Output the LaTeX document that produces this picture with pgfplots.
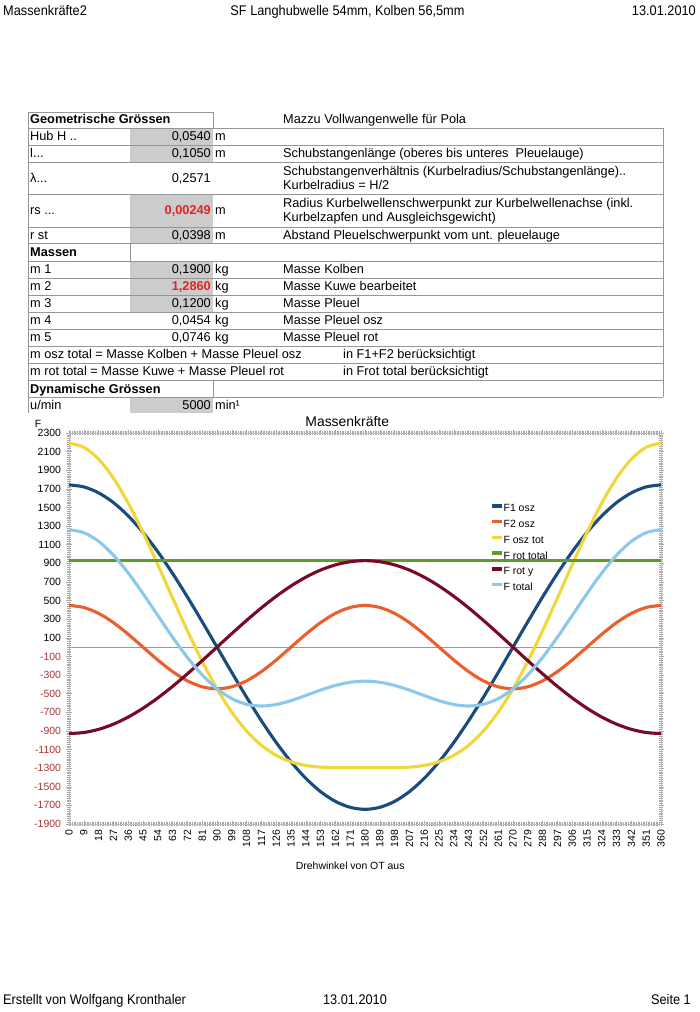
\documentclass[border=0pt]{standalone}
\usepackage{pgfplots}
\pgfplotsset{compat=1.18}
\usepackage{pgfplotstable}
\usepackage{fontspec}
\setmainfont{Liberation Sans}
\newfontfamily\narrow[FakeStretch=0.915]{Liberation Sans}

\definecolor{cA}{RGB}{25,75,125}
\definecolor{cB}{RGB}{235,95,45}
\definecolor{cC}{RGB}{240,215,60}
\definecolor{cD}{RGB}{95,155,40}
\definecolor{cE}{RGB}{120,10,40}
\definecolor{cF}{RGB}{140,200,235}
\definecolor{negred}{RGB}{170,50,50}
\definecolor{valred}{RGB}{225,35,35}
\definecolor{cellgray}{RGB}{204,204,204}
\definecolor{rulegray}{RGB}{150,150,150}

\pgfplotstableread{
deg F1 F2 Fosz Frot Froty Ftot
0 1742.5 448.0 2190.5 928.8 -928.8 1261.7
9 1721.0 426.1 2147.1 928.8 -917.4 1229.7
18 1657.2 362.4 2019.6 928.8 -883.3 1136.3
27 1552.6 263.3 1815.9 928.8 -827.6 988.3
36 1409.7 138.4 1548.1 928.8 -751.4 796.7
45 1232.1 0.0 1232.1 928.8 -656.8 575.3
54 1024.2 -138.4 885.8 928.8 -545.9 339.9
63 791.1 -263.3 527.8 928.8 -421.7 106.1
72 538.5 -362.4 176.1 928.8 -287.0 -110.9
81 272.6 -426.1 -153.5 928.8 -145.3 -298.8
90 0.0 -448.0 -448.0 928.8 0.0 -448.0
99 -272.6 -426.1 -698.7 928.8 145.3 -553.4
108 -538.5 -362.4 -900.9 928.8 287.0 -613.9
117 -791.1 -263.3 -1054.4 928.8 421.7 -632.7
126 -1024.2 -138.4 -1162.6 928.8 545.9 -616.7
135 -1232.1 0.0 -1232.1 928.8 656.8 -575.3
144 -1409.7 138.4 -1271.3 928.8 751.4 -519.9
153 -1552.6 263.3 -1289.3 928.8 827.6 -461.7
162 -1657.2 362.4 -1294.8 928.8 883.3 -411.5
171 -1721.0 426.1 -1294.9 928.8 917.4 -377.5
180 -1742.5 448.0 -1294.5 928.8 928.8 -365.7
189 -1721.0 426.1 -1294.9 928.8 917.4 -377.5
198 -1657.2 362.4 -1294.8 928.8 883.3 -411.5
207 -1552.6 263.3 -1289.3 928.8 827.6 -461.7
216 -1409.7 138.4 -1271.3 928.8 751.4 -519.9
225 -1232.1 0.0 -1232.1 928.8 656.8 -575.3
234 -1024.2 -138.4 -1162.6 928.8 545.9 -616.7
243 -791.1 -263.3 -1054.4 928.8 421.7 -632.7
252 -538.5 -362.4 -900.9 928.8 287.0 -613.9
261 -272.6 -426.1 -698.7 928.8 145.3 -553.4
270 0.0 -448.0 -448.0 928.8 0.0 -448.0
279 272.6 -426.1 -153.5 928.8 -145.3 -298.8
288 538.5 -362.4 176.1 928.8 -287.0 -110.9
297 791.1 -263.3 527.8 928.8 -421.7 106.1
306 1024.2 -138.4 885.8 928.8 -545.9 339.9
315 1232.1 0.0 1232.1 928.8 -656.8 575.3
324 1409.7 138.4 1548.1 928.8 -751.4 796.7
333 1552.6 263.3 1815.9 928.8 -827.6 988.3
342 1657.2 362.4 2019.6 928.8 -883.3 1136.3
351 1721.0 426.1 2147.1 928.8 -917.4 1229.7
360 1742.5 448.0 2190.5 928.8 -928.8 1261.7
}\data

\newcommand\tf{\fontsize{12.8}{13.5}\selectfont}
\newcommand\hf{\narrow\fontsize{14}{15}\selectfont}
\newcommand\cf{\fontsize{10.5}{11.5}\selectfont}

\begin{document}
\begin{tikzpicture}
\path[use as bounding box] (0,0) rectangle (700bp,1012bp);
\begin{scope}[shift={(0bp,1012bp)}, x=1bp, y=-1bp]
  % page header and footer
  \node[anchor=base west, inner sep=0] at (3,15.5) {\hf Massenkräfte2};
  \node[anchor=base, inner sep=0] at (347.5,15.5) {\hf SF Langhubwelle 54mm, Kolben 56,5mm};
  \node[anchor=base east, inner sep=0] at (696,15.5) {\hf 13.01.2010};
  \node[anchor=base west, inner sep=0] at (3,1005) {\hf Erstellt von Wolfgang Kronthaler};
  \node[anchor=base, inner sep=0] at (355,1005) {\hf 13.01.2010};
  \node[anchor=base east, inner sep=0] at (691,1005) {\hf Seite 1};

  % gray value cells
  \fill[cellgray] (130,128) rectangle (213,162);
  \fill[cellgray] (130,194) rectangle (213,243);
  \fill[cellgray] (130,261) rectangle (213,312);
  \fill[cellgray] (130,397) rectangle (213,413);

  % table rules
  \begin{scope}[rulegray, line width=0.8bp]
    \draw (28,112) -- (213,112);
    \foreach \yy in {128,145,162,194,227,243,261,278,295,312,329,346,363,380,397}
      \draw (28,\yy) -- (663,\yy);
    \draw (28,112) -- (28,413);
    \draw (663,128) -- (663,397);
    \draw (213,112) -- (213,128);
    \draw (130,243) -- (130,261);
    \draw (213,380) -- (213,397);
  \end{scope}

  % table text
  \begin{scope}[every node/.style={inner sep=0, font=\tf}]
    \node[anchor=base west] at (30,124) {\bfseries Geometrische Grössen};
    \node[anchor=base west] at (283,124) {Mazzu Vollwangenwelle für Pola};

    \node[anchor=base west] at (30,141) {Hub H ..};
    \node[anchor=base east] at (211,141) {0,0540};
    \node[anchor=base west] at (215,141) {m};

    \node[anchor=base west] at (30,158) {l...};
    \node[anchor=base east] at (211,158) {0,1050};
    \node[anchor=base west] at (215,158) {m};
    \node[anchor=base west] at (283,158) {Schubstangenlänge (oberes bis unteres\ \ Pleuelauge)};

    \node[anchor=base west] at (30,182.5) {λ...};
    \node[anchor=base east] at (211,182.5) {0,2571};
    \node[anchor=base west] at (283,176) {Schubstangenverhältnis (Kurbelradius/Schubstangenlänge)..};
    \node[anchor=base west] at (283,189.5) {Kurbelradius = H/2};

    \node[anchor=base west] at (30,215) {rs ...};
    \node[anchor=base east] at (211,215) {\bfseries\color{valred}0,00249};
    \node[anchor=base west] at (215,215) {m};
    \node[anchor=base west] at (283,208) {Radius Kurbelwellenschwerpunkt zur Kurbelwellenachse (inkl.};
    \node[anchor=base west] at (283,221.5) {Kurbelzapfen und Ausgleichsgewicht)};

    \node[anchor=base west] at (30,239.5) {r st};
    \node[anchor=base east] at (211,239.5) {0,0398};
    \node[anchor=base west] at (215,239.5) {m};
    \node[anchor=base west] at (283,239.5) {Abstand Pleuelschwerpunkt vom unt. pleuelauge};

    \node[anchor=base west] at (30,256.5) {\bfseries Massen};

    \node[anchor=base west] at (30,274) {m 1};
    \node[anchor=base east] at (211,274) {0,1900};
    \node[anchor=base west] at (215,274) {kg};
    \node[anchor=base west] at (283,274) {Masse Kolben};

    \node[anchor=base west] at (30,291) {m 2};
    \node[anchor=base east] at (211,291) {\bfseries\color{valred}1,2860};
    \node[anchor=base west] at (215,291) {kg};
    \node[anchor=base west] at (283,291) {Masse Kuwe bearbeitet};

    \node[anchor=base west] at (30,308) {m 3};
    \node[anchor=base east] at (211,308) {0,1200};
    \node[anchor=base west] at (215,308) {kg};
    \node[anchor=base west] at (283,308) {Masse Pleuel};

    \node[anchor=base west] at (30,325) {m 4};
    \node[anchor=base east] at (211,325) {0,0454};
    \node[anchor=base west] at (215,325) {kg};
    \node[anchor=base west] at (283,325) {Masse Pleuel osz};

    \node[anchor=base west] at (30,342) {m 5};
    \node[anchor=base east] at (211,342) {0,0746};
    \node[anchor=base west] at (215,342) {kg};
    \node[anchor=base west] at (283,342) {Masse Pleuel rot};

    \node[anchor=base west] at (30,359) {m osz total = Masse Kolben + Masse Pleuel osz};
    \node[anchor=base west] at (343,359) {in F1+F2 berücksichtigt};

    \node[anchor=base west] at (30,376) {m rot total = Masse Kuwe + Masse Pleuel rot};
    \node[anchor=base west] at (343,376) {in Frot total berücksichtigt};

    \node[anchor=base west] at (30,393.5) {\bfseries Dynamische Grössen};

    \node[anchor=base west] at (30,410) {u/min};
    \node[anchor=base east] at (211,410) {5000};
    \node[anchor=base west] at (215,410) {min¹};
  \end{scope}

  \node[anchor=base, inner sep=0, font=\fontsize{10.5}{11}\selectfont] at (38,428) {F};
\end{scope}

\begin{axis}[
  at={(69bp,188bp)}, anchor=south west, scale only axis,
  width=592bp, height=391bp,
  xmin=0, xmax=360, ymin=-1900, ymax=2300,
  xtick={0,9,...,360}, minor x tick num=8,
  ytick={-1900,-1700,...,2300}, minor y tick num=9,
  yticklabels={\textcolor{negred}{-1900},\textcolor{negred}{-1700},\textcolor{negred}{-1500},\textcolor{negred}{-1300},\textcolor{negred}{-1100},\textcolor{negred}{-900},\textcolor{negred}{-700},\textcolor{negred}{-500},\textcolor{negred}{-300},\textcolor{negred}{-100},100,300,500,700,900,1100,1300,1500,1700,1900,2100,2300},
  extra y ticks={0}, extra y tick labels={},
  extra y tick style={grid=major, major grid style={black!40, line width=0.6bp}, major tick length=0pt},
  /pgf/number format/assume math mode=true,
  tick align=center, major tick length=5bp, minor tick length=4bp,
  tick style={black!35, line width=0.5bp},
  axis line style={black!25, line width=0.6bp},
  xticklabel style={rotate=90, anchor=east, font=\cf},
  yticklabel style={font=\cf, xshift=-2bp},
  title={Massenkräfte},
  title style={font=\fontsize{14}{15}\selectfont, at={(0.47,1)}, anchor=base, yshift=1bp},
  xlabel={Drehwinkel von OT aus},
  xlabel style={font=\fontsize{10.5}{11}\selectfont, at={(axis description cs:0.475,-0.1176)}, anchor=base},
  legend style={at={(0.706,0.8235)}, anchor=north west, draw=none, fill=none,
    font=\fontsize{10.5}{11}\selectfont, row sep=5.5bp,
    nodes={inner sep=0pt, text height=7.5bp, text depth=2.5bp},
    /tikz/every even column/.append style={column sep=3bp}},
  legend cell align=left,
  legend image code/.code={\draw[#1, line width=3.5bp] (0bp,3.5bp) -- (10bp,3.5bp);},
  every axis plot/.append style={line width=3.1bp, smooth},
]
\addplot[cA] table[x=deg,y=F1]{\data};
\addlegendentry{F1 osz}
\addplot[cB] table[x=deg,y=F2]{\data};
\addlegendentry{F2 osz}
\addplot[cC] table[x=deg,y=Fosz]{\data};
\addlegendentry{F osz tot}
\addplot[cD, line width=3.3bp] table[x=deg,y=Frot]{\data};
\addlegendentry{F rot total}
\addplot[cE] table[x=deg,y=Froty]{\data};
\addlegendentry{F rot y}
\addplot[cF] table[x=deg,y=Ftot]{\data};
\addlegendentry{F total}
\end{axis}
\end{tikzpicture}
\end{document}
